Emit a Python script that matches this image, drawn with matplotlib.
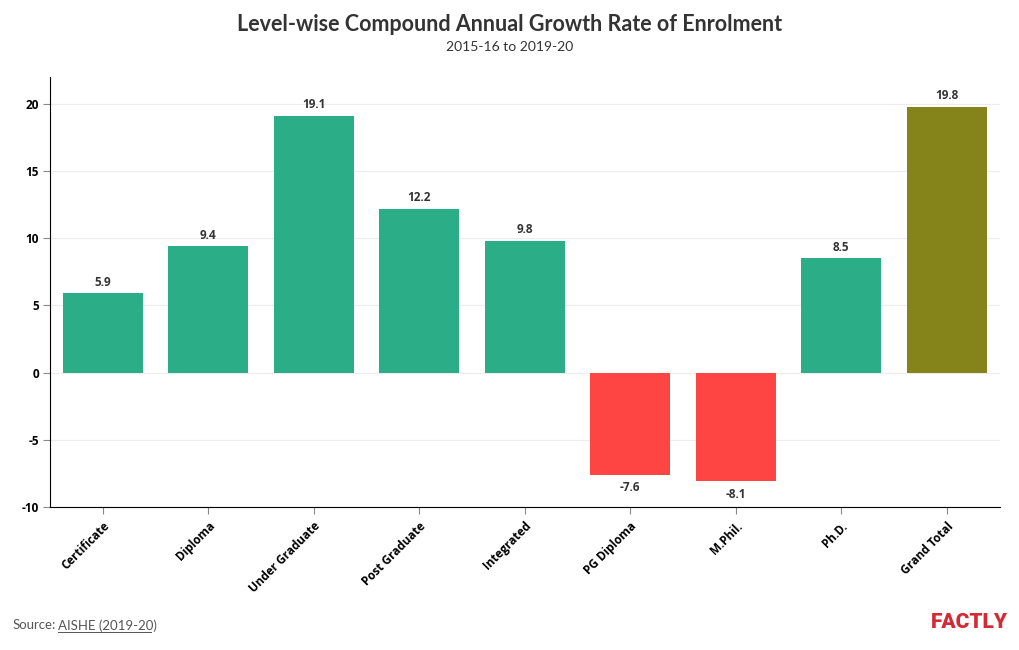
import matplotlib.pyplot as plt
import numpy as np

levels = ["Certificate", "Diploma", "Under Graduate", "Post Graduate", "Integrated",
          "PG Diploma", "M.Phil.", "Ph.D.", "Grand Total"]
cagr = [5.9, 9.4, 19.1, 12.2, 9.8, -7.6, -8.1, 8.5, 19.8]
yticks = [-10, -5, 0, 5, 10, 15, 20]

green = "#2bae87"
red = "#ff4444"
olive = "#85841a"
colors = [olive if lv == "Grand Total" else (red if v < 0 else green)
          for lv, v in zip(levels, cagr)]

fig = plt.figure(figsize=(10.2, 6.5), dpi=100)
ax = fig.add_axes([0.049, 0.22, 0.931, 0.6615])

x = np.arange(len(levels))
ax.bar(x, cagr, width=0.76, color=colors, zorder=2)

for xi, v in zip(x, cagr):
    off = 0.35 if v >= 0 else -0.45
    ax.text(xi, v + off, f"{v:.1f}", ha="center", va="bottom" if v >= 0 else "top",
            fontsize=8.5, fontweight="bold", color="#333333", family="Open Sans")

ax.set_xlim(-0.5, len(levels) - 0.5)
ax.set_ylim(-10, 22)
ax.set_yticks(yticks)
ax.set_yticklabels([str(t) for t in yticks], fontsize=8.5, fontweight="bold", family="Open Sans")
ax.set_xticks(x)
ax.set_xticklabels(levels, rotation=45, ha="right", rotation_mode="anchor",
                   fontsize=8.5, fontweight="bold", family="Open Sans")
ax.tick_params(axis="x", length=5, color="#888888", pad=4)
ax.tick_params(axis="y", length=5, color="#888888", pad=3)
ax.grid(axis="y", color="#ececec", linewidth=0.8, zorder=0)
for s in ["top", "right"]:
    ax.spines[s].set_visible(False)
ax.spines["left"].set_color("black")
ax.spines["bottom"].set_color("black")

fig.text(0.5, 0.962, "Level-wise Compound Annual Growth Rate of Enrolment", ha="center",
         va="center", fontsize=15.5, fontweight="bold", color="#333333", family="Lato")
fig.text(0.5, 0.927, "2015-16 to 2019-20", ha="center", va="center",
         fontsize=10, color="#333333", family="Lato")
fig.text(0.012, 0.038, "Source:", ha="left", va="center", fontsize=9.5,
         color="#555555", family="Lato")
fig.text(0.057, 0.038, "AISHE (2019-20)", ha="left", va="center", fontsize=9.5,
         color="#555555", family="Lato")
fig.lines.append(plt.Line2D([0.057, 0.148], [0.028, 0.028], transform=fig.transFigure,
                            color="#555555", linewidth=0.7))
fig.text(0.988, 0.042, "FACTLY", ha="right", va="center", fontsize=15,
         fontweight="black", color="#d42a35", family="Roboto")

fig.savefig("out.png", dpi=100)
